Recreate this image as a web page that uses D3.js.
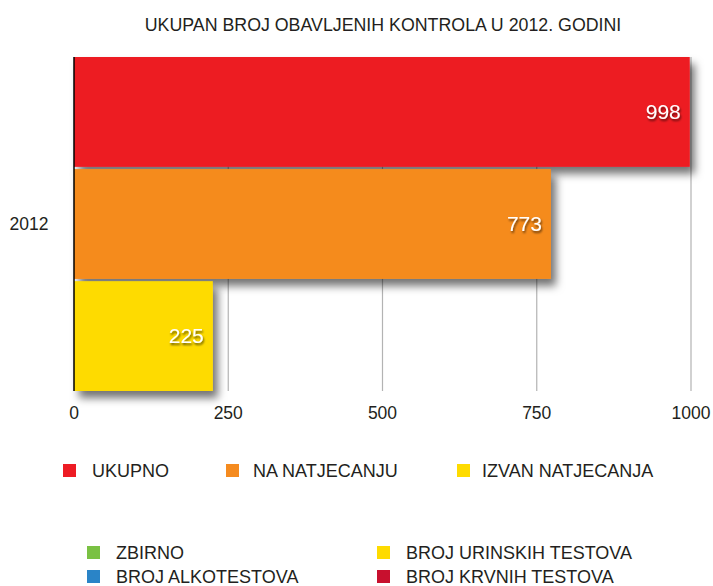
<!DOCTYPE html>
<html><head><meta charset="utf-8">
<script src="https://cdn.jsdelivr.net/npm/d3@7"></script>
<style>body{margin:0;background:#fff}svg{display:block}text{font-family:"Liberation Sans",Arial,sans-serif;fill:#231f20}</style>
</head><body>
<script>
const title = "UKUPAN BROJ OBAVLJENIH KONTROLA U 2012. GODINI";
const categories = ["2012"];
const seriesNames = ["UKUPNO", "NA NATJECANJU", "IZVAN NATJECANJA"];
const seriesValues = [998, 773, 225];
const seriesColors = ["#ED1C24", "#F58B1F", "#FEDB00"];
const xTicks = [0, 250, 500, 750, 1000];
const legend2Names = ["ZBIRNO", "BROJ URINSKIH TESTOVA", "BROJ ALKOTESTOVA", "BROJ KRVNIH TESTOVA"];
const legend2Colors = ["#7AC143", "#FEDB00", "#2A84C7", "#C8102E"];

const W = 713, H = 586;
const svg = d3.select("body").append("svg").attr("width", W).attr("height", H);
const defs = svg.append("defs");
const f = defs.append("filter").attr("id","sh").attr("x","-10%").attr("y","-10%").attr("width","130%").attr("height","140%");
f.append("feDropShadow").attr("dx",5).attr("dy",7).attr("stdDeviation",4).attr("flood-color","#000").attr("flood-opacity",0.55);
const ft = defs.append("filter").attr("id","tsh").attr("x","-20%").attr("y","-20%").attr("width","150%").attr("height","160%");
ft.append("feDropShadow").attr("dx",1).attr("dy",2).attr("stdDeviation",1).attr("flood-color","#000").attr("flood-opacity",0.6);

const x = d3.scaleLinear().domain([0, 1000]).range([74, 691]);
const y0 = d3.scaleBand().domain(categories).range([57, 391]);
const y1 = d3.scaleBand().domain(seriesNames).range([0, y0.bandwidth()]).paddingInner(0.02);

svg.append("text").attr("x", 383).attr("y", 31).attr("text-anchor","middle").attr("font-size",17.8).text(title);

// grid
svg.append("g").selectAll("line").data(xTicks.slice(1)).join("line")
  .attr("x1", d=>x(d)).attr("x2", d=>x(d)).attr("y1", 57).attr("y2", 391)
  .attr("stroke","#b3b3b3").attr("stroke-width",1.2);

const bars = svg.append("g");
categories.forEach(c => {
  seriesNames.forEach((s,i) => {
    const v = seriesValues[i];
    bars.append("rect").attr("x", x(0)).attr("y", y0(c)+y1(s)).attr("width", x(v)-x(0)).attr("height", y1.bandwidth())
      .attr("fill", seriesColors[i]).attr("filter","url(#sh)");
  });
  seriesNames.forEach((s,i) => {
    const v = seriesValues[i];
    bars.append("text").attr("x", x(v)-9).attr("y", y0(c)+y1(s)+y1.bandwidth()/2+7).attr("text-anchor","end")
      .attr("font-size",21).style("fill","#fff").attr("filter","url(#tsh)").text(v);
  });
});

// axis line
svg.append("line").attr("x1", x(0)).attr("x2", x(0)).attr("y1",57).attr("y2",391).attr("stroke","#000").attr("stroke-width",1.5);

// x tick labels
svg.append("g").selectAll("text").data(xTicks).join("text")
  .attr("x", d=>x(d)).attr("y", 419).attr("text-anchor","middle")
  .attr("font-size",17.5).text(d=>d);

// category label
svg.append("g").selectAll("text").data(categories).join("text")
  .attr("x", 29).attr("y", d=>y0(d)+y0.bandwidth()/2+6).attr("text-anchor","middle").attr("font-size",17.5).text(d=>d);

// legend 1
const l1x = [63, 226, 457];
const l1tx = [92, 253, 482];
seriesNames.forEach((s,i)=>{
  svg.append("rect").attr("x", l1x[i]).attr("y", 464).attr("width",13).attr("height",13).attr("fill", seriesColors[i]);
  svg.append("text").attr("x", l1tx[i]).attr("y", 477).attr("font-size",18).text(s);
});
// legend 2
const l2pos = [[87,546],[377,546],[87,570],[377,570]];
legend2Names.forEach((s,i)=>{
  svg.append("rect").attr("x", l2pos[i][0]).attr("y", l2pos[i][1]).attr("width",13).attr("height",13).attr("fill", legend2Colors[i]);
  svg.append("text").attr("x", l2pos[i][0]+29).attr("y", l2pos[i][1]+13).attr("font-size",18).text(s);
});
</script>
</body></html>
